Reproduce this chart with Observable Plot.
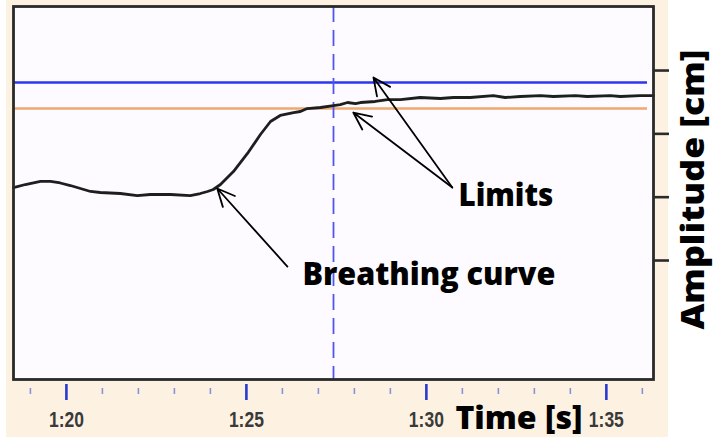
<!DOCTYPE html>
<html>
<head>
<meta charset="utf-8">
<script src="https://cdn.jsdelivr.net/npm/d3@7"></script>
<script src="https://cdn.jsdelivr.net/npm/@observablehq/plot@0.6"></script>
<style>
  html, body { margin: 0; padding: 0; background: #ffffff; }
  #wrap { position: relative; width: 715px; height: 438px; overflow: hidden; }
  #bg { position: absolute; left: 6px; top: 0; width: 662px; height: 437px; background: #fdf2e2; }
  #chart { position: absolute; left: 0; top: 0; }
</style>
</head>
<body>
<div id="wrap"><div id="bg"></div><div id="chart"></div></div>
<script>
// Breathing curve (time in seconds, amplitude in cm units)
const time = [78.53, 78.86, 79.28, 79.56, 79.83, 80.11, 80.39, 80.67, 80.94, 81.50, 81.97, 82.33, 82.89, 83.44, 83.72, 83.92, 84.08, 84.28, 84.64, 85.03, 85.39, 85.67, 85.94, 86.31, 86.50, 86.69, 87.06, 87.42, 87.61, 87.81, 88.03, 88.17, 88.58, 88.92, 89.28, 89.83, 90.39, 90.75, 91.22, 91.86, 92.19, 92.61, 93.17, 93.53, 94.14, 94.47, 95.11, 95.39, 95.94, 96.31];
const amplitude = [2.15, 2.20, 2.25, 2.25, 2.224, 2.184, 2.137, 2.090, 2.074, 2.058, 2.026, 2.042, 2.042, 2.026, 2.058, 2.090, 2.121, 2.200, 2.405, 2.690, 2.990, 3.195, 3.290, 3.337, 3.353, 3.400, 3.416, 3.447, 3.463, 3.495, 3.479, 3.495, 3.511, 3.542, 3.542, 3.574, 3.558, 3.574, 3.574, 3.605, 3.574, 3.590, 3.605, 3.590, 3.605, 3.590, 3.605, 3.590, 3.605, 3.605];

// Limits
const upperLimit = [3.81];
const lowerLimit = [3.40];
// Current-time marker
const cursorTime = [87.42];

// Axes
const timeDomain = [78.53, 96.31];
const ampDomain = [-0.879, 5.011];
const majorTicks = [80, 85, 90, 95];
const minorTicks = [79, 81, 82, 83, 84, 86, 87, 88, 89, 91, 92, 93, 94, 96];
const ampTicks = [1, 2, 3, 4];

// Annotations
const arrowFrom = [[86.14, 0.905], [90.72, 2.153], [90.72, 2.153]];
const arrowTo = [[84.19, 2.137], [87.97, 3.337], [88.53, 3.89]];
const labelText = ["Breathing curve", "Limits"];
const labelPos = [[90.07, 0.78], [92.21, 2.03]];
const xTitle = "Time [s]";
const xTitlePos = [92.57, -1.495];
const yTitle = "Amplitude [cm]";
const yTitlePos = [97.45, 2.12];

const curve = time.map((t, i) => ({t, a: amplitude[i]}));
const arrows = arrowFrom.map((f, i) => ({x1: f[0], y1: f[1], x2: arrowTo[i][0], y2: arrowTo[i][1]}));
const labels = labelText.map((s, i) => ({s, x: labelPos[i][0], y: labelPos[i][1]}));
const fmt = s => `${Math.floor(s / 60)}:${String(s % 60).padStart(2, "0")}`;
const annFont = "'Open Sans', 'DejaVu Sans', sans-serif";

const chart = Plot.plot({
  width: 715,
  height: 438,
  marginLeft: 13,
  marginRight: 62,
  marginTop: 6,
  marginBottom: 59,
  style: {background: "transparent", overflow: "visible"},
  x: {type: "linear", domain: timeDomain},
  y: {type: "linear", domain: ampDomain},
  marks: [
    Plot.frame({fill: "#fdfbff", stroke: "none"}),
    Plot.ruleY(upperLimit, {y: d => d, stroke: "#2a36f0", strokeWidth: 2.4, insetRight: 6}),
    Plot.ruleY(lowerLimit, {y: d => d, stroke: "#eea872", strokeWidth: 2.4, insetRight: 6}),
    Plot.ruleX(cursorTime, {x: d => d, stroke: "#4e58f0", strokeWidth: 1.8, strokeDasharray: "16,8"}),
    Plot.line(curve, {x: "t", y: "a", stroke: "#1e1e1e", strokeWidth: 2.8, strokeLinejoin: "round"}),
    Plot.frame({stroke: "#2a2a2a", strokeWidth: 2.8}),
    Plot.axisX(majorTicks, {tickSize: 16, dy: 5, tickFormat: () => "", label: null, stroke: "#2a3ad0", strokeWidth: 2.6}),
    Plot.axisX(minorTicks, {tickSize: 6, dy: 9, tickFormat: () => "", label: null, stroke: "#8a92d6", strokeWidth: 1.6}),
    Plot.text(majorTicks, {x: d => d, frameAnchor: "bottom", dy: 40, lineAnchor: "middle", text: fmt,
      fontSize: 22, fontWeight: "bold", fontFamily: "'Liberation Sans', Arial, sans-serif", fill: "#3a3a3a"}),
    Plot.axisY(ampTicks, {anchor: "right", tickSize: 15, tickFormat: () => "", label: null, stroke: "#2a2a2a", strokeWidth: 2.6}),
    Plot.arrow(arrows, {x1: "x1", y1: "y1", x2: "x2", y2: "y2", stroke: "#000", strokeWidth: 1.8, headLength: 16, headAngle: 50}),
    Plot.text(labels, {x: "x", y: "y", text: "s", fontSize: 32, fontWeight: 800, fontFamily: annFont, fill: "#000", lineAnchor: "middle"}),
    Plot.text([xTitle], {x: xTitlePos[0], y: xTitlePos[1], text: d => d, fontSize: 32, fontWeight: 800, fontFamily: annFont, fill: "#000", lineAnchor: "middle"}),
    Plot.text([yTitle], {x: yTitlePos[0], y: yTitlePos[1], text: d => d, rotate: -90, fontSize: 31, fontWeight: 800, fontFamily: annFont, fill: "#000", lineAnchor: "middle"})
  ]
});

const widths = {"Breathing curve": 253, "Limits": 95, "Time [s]": 127, "Amplitude [cm]": 280, "1:20": 35, "1:25": 35, "1:30": 35, "1:35": 35};
d3.select(chart).selectAll("text").each(function () {
  const w = widths[this.textContent];
  if (w) d3.select(this).attr("textLength", w).attr("lengthAdjust", "spacingAndGlyphs");
});

document.getElementById("chart").appendChild(chart);
</script>
</body>
</html>
